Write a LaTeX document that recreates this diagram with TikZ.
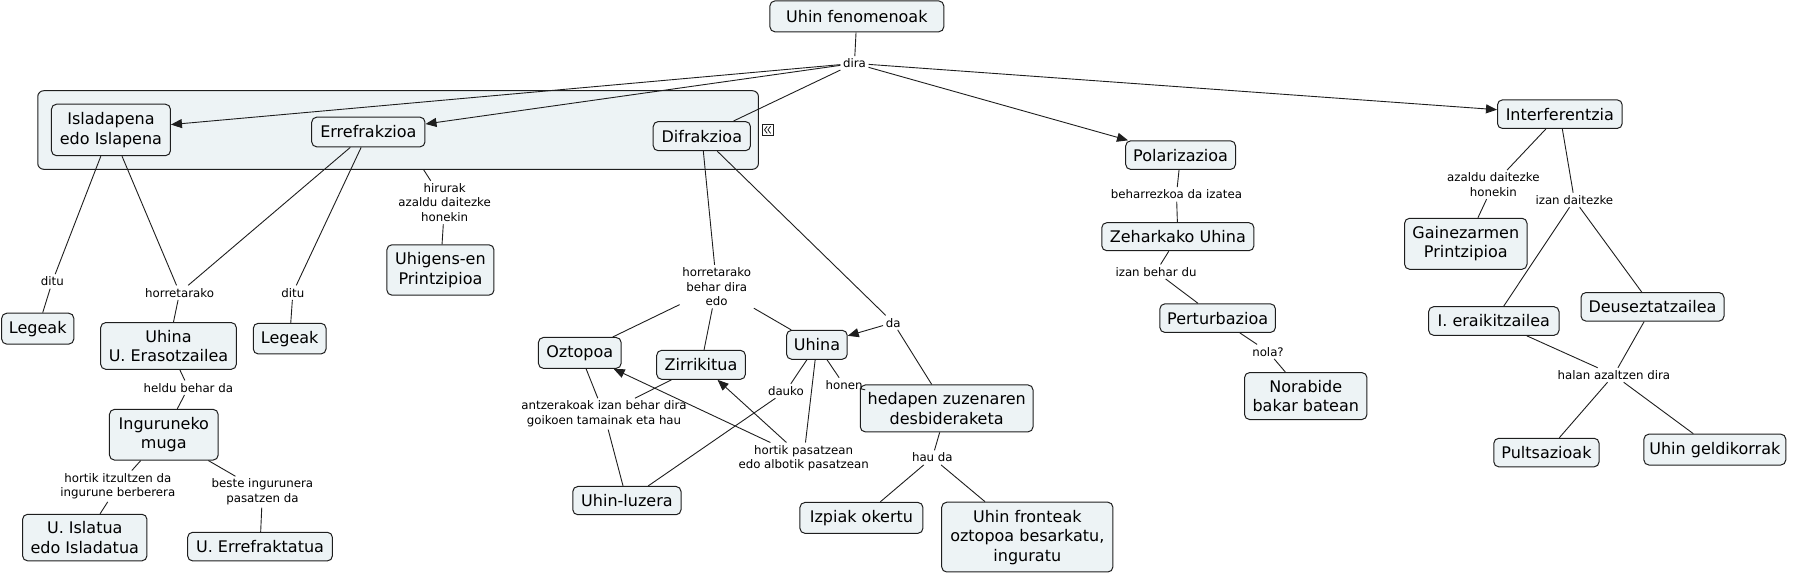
\documentclass[tikz,border=0pt]{standalone}
\usepackage{fontspec}
\setmainfont{DejaVu Sans}
\usetikzlibrary{arrows.meta}
\definecolor{cfill}{HTML}{EDF3F5}
\definecolor{cline}{HTML}{1E1E1E}
\begin{document}
\begin{tikzpicture}[x=1.144pt,y=-1.144pt,
  cnode/.style={draw=cline, fill=cfill, rounded corners=5pt, line width=1pt, align=center,
    font=\fontsize{16}{19.5}\selectfont, inner xsep=4pt, inner ysep=3pt},
  bw/.style={minimum width=#1*1.144pt},
  bh/.style={minimum height=#1*1.144pt},
  lab/.style={align=center, font=\fontsize{11.8}{14.5}\selectfont, inner xsep=2.5pt, inner ysep=2.5pt},
  ln/.style={draw=cline, line width=0.9pt},
  arr/.style={ln, -{Triangle[length=11pt,width=9pt]}}]
\useasboundingbox (0,0) rectangle (1568.2,501.8);
% group
\node[draw=cline, fill=cfill, rounded corners=6pt, line width=1pt, inner sep=0pt,
  minimum width=630*1.144pt, minimum height=68.7*1.144pt] (grp) at (348,113.65) {};
\draw[cline, fill=white, line width=0.8pt] (666.6,108.4) rectangle (675.7,118.6);
\draw[cline, line width=0.8pt] (670.6,110.4) -- (668.3,113.5) -- (670.6,116.6)
  (673.6,110.4) -- (671.3,113.5) -- (673.6,116.6);
% concept nodes
\node[cnode,bw=152,bh=27] (fen) at (749,14.3) {Uhin fenomenoak};
\node[cnode,bw=104,bh=45] (isl) at (97,113.6) {Isladapena\\edo Islapena};
\node[cnode,bw=99,bh=26] (err) at (322,115.4) {Errefrakzioa};
\node[cnode,bw=85,bh=25.5] (dif) at (613.5,119) {Difrakzioa};
\node[cnode,bw=96,bh=25] (pol) at (1032,135.6) {Polarizazioa};
\node[cnode,bw=109,bh=25] (int) at (1363.5,99.8) {Interferentzia};
\node[cnode,bw=133,bh=24.5] (zeh) at (1029.6,206.9) {Zeharkako Uhina};
\node[cnode,bw=101,bh=25] (per) at (1064.4,278.1) {Perturbazioa};
\node[cnode,bw=107,bh=41] (nor) at (1141.4,346.2) {Norabide\\bakar batean};
\node[cnode,bw=107,bh=44.6] (gai) at (1281.3,213.1) {Gainezarmen\\Printzipioa};
\node[cnode,bw=114,bh=25] (era) at (1305.8,280.6) {I. eraikitzailea};
\node[cnode,bw=125,bh=25] (deu) at (1444.5,268.2) {Deuseztatzailea};
\node[cnode,bw=92,bh=25] (pul) at (1351.8,395.6) {Pultsazioak};
\node[cnode,bw=124,bh=27] (gel) at (1499,393) {Uhin geldikorrak};
\node[cnode,bw=93.6,bh=44] (uhi) at (385,236) {Uhigens-en\\Printzipioa};
\node[cnode,bw=63,bh=27] (leg1) at (33,287.3) {Legeak};
\node[cnode,bw=118.6,bh=40.8] (ue) at (147.3,302.4) {Uhina\\U. Erasotzailea};
\node[cnode,bw=63.6,bh=26.8] (leg2) at (253.2,296) {Legeak};
\node[cnode,bw=95,bh=44.3] (ing) at (143.2,380) {Inguruneko\\muga};
\node[cnode,bw=108.7,bh=40.7] (isla) at (74.1,469.9) {U. Islatua\\edo Isladatua};
\node[cnode,bw=126.5,bh=25] (errf) at (227.3,477.8) {U. Errefraktatua};
\node[cnode,bw=72.3,bh=27] (ozt) at (506.8,308.5) {Oztopoa};
\node[cnode,bw=77.5,bh=25.4] (zir) at (612.8,318.9) {Zirrikitua};
\node[cnode,bw=53,bh=25.3] (uhn) at (714.1,301.4) {Uhina};
\node[cnode,bw=151,bh=41] (hed) at (827.5,357) {hedapen zuzenaren\\desbideraketa};
\node[cnode,bw=94.6,bh=24.7] (luz) at (548,437.6) {Uhin-luzera};
\node[cnode,bw=107.5,bh=27] (izp) at (753,452.7) {Izpiak okertu};
\node[cnode,bw=149.6,bh=61] (fro) at (898,469.5) {Uhin fronteak\\oztopoa besarkatu,\\inguratu};
% linking phrases
\node[lab] (ldira) at (746.9,55.4) {dira};
\node[lab] (lhir) at (388.7,177) {hirurak\\azaldu daitezke\\honekin};
\node[lab] (lditua) at (45.8,246) {ditu};
\node[lab] (lhora) at (157,255.8) {horretarako};
\node[lab] (lditub) at (256,255.8) {ditu};
\node[lab] (lheld) at (164.6,338.9) {heldu behar da};
\node[lab] (litz) at (103,425) {hortik itzultzen da\\ingurune berberera};
\node[lab] (lbes) at (229.4,430) {beste ingurunera\\pasatzen da};
\node[lab] (lhorb) at (626.5,250.6) {horretarako\\behar dira\\edo};
\node[lab] (lda) at (780.7,282) {da};
\node[lab] (ldau) at (687,341.8) {dauko};
\node[lab] (lhon) at (737.8,336.5) {honen};
\node[lab] (lant) at (528,361.8) {antzerakoak izan behar dira\\goikoen tamainak eta hau};
\node[lab] (lpas) at (702.5,400.5) {hortik pasatzean\\edo albotik pasatzean};
\node[lab] (lhau) at (815,400) {hau da};
\node[lab] (lbeh) at (1028.4,169.9) {beharrezkoa da izatea};
\node[lab] (lizb) at (1010.5,237.5) {izan behar du};
\node[lab] (lnol) at (1108.4,307.4) {nola?};
\node[lab] (laza) at (1305.4,161.4) {azaldu daitezke\\honekin};
\node[lab] (lizd) at (1376.2,174.8) {izan daitezke};
\node[lab] (lhal) at (1410.7,327.8) {halan azaltzen dira};
% connectors
\draw[ln] (fen) -- (ldira);
\draw[arr] (ldira) -- (isl);
\draw[arr] (ldira) -- (err);
\draw[ln] (ldira) -- (dif);
\draw[arr] (ldira) -- (pol);
\draw[arr] (ldira) -- (int);
\draw[ln] (grp) -- (lhir);
\draw[ln] (lhir) -- (uhi);
\draw[ln] (isl) -- (lditua);
\draw[ln] (lditua) -- (leg1);
\draw[ln] (isl) -- (lhora);
\draw[ln] (err) -- (lhora);
\draw[ln] (lhora) -- (ue);
\draw[ln] (err) -- (lditub);
\draw[ln] (lditub) -- (leg2);
\draw[ln] (ue) -- (lheld);
\draw[ln] (lheld) -- (ing);
\draw[ln] (ing) -- (litz);
\draw[ln] (litz) -- (isla);
\draw[ln] (ing) -- (lbes);
\draw[ln] (lbes) -- (errf);
\draw[ln] (dif) -- (lhorb);
\draw[ln] (lhorb) -- (ozt);
\draw[ln] (lhorb) -- (zir);
\draw[ln] (lhorb) -- (uhn);
\draw[ln] (dif) -- (lda);
\draw[ln] (lda) -- (hed);
\draw[arr] (lda) -- (uhn);
\draw[ln] (uhn) -- (ldau);
\draw[ln] (ldau) -- (luz);
\draw[ln] (uhn) -- (lhon);
\draw[ln] (lhon) -- (hed);
\draw[ln] (uhn) -- (lpas);
\draw[arr] (lpas) -- (ozt);
\draw[arr] (lpas) -- (zir);
\draw[ln] (ozt) -- (lant);
\draw[ln] (zir) -- (lant);
\draw[ln] (lant) -- (luz);
\draw[ln] (hed) -- (lhau);
\draw[ln] (lhau) -- (izp);
\draw[ln] (lhau) -- (fro);
\draw[ln] (pol) -- (lbeh);
\draw[ln] (lbeh) -- (zeh);
\draw[ln] (zeh) -- (lizb);
\draw[ln] (lizb) -- (per);
\draw[ln] (per) -- (lnol);
\draw[ln] (lnol) -- (nor);
\draw[ln] (int) -- (laza);
\draw[ln] (laza) -- (gai);
\draw[ln] (int) -- (lizd);
\draw[ln] (lizd) -- (era);
\draw[ln] (lizd) -- (deu);
\draw[ln] (era) -- (lhal);
\draw[ln] (deu) -- (lhal);
\draw[ln] (lhal) -- (pul);
\draw[ln] (lhal) -- (gel);
\end{tikzpicture}
\end{document}
